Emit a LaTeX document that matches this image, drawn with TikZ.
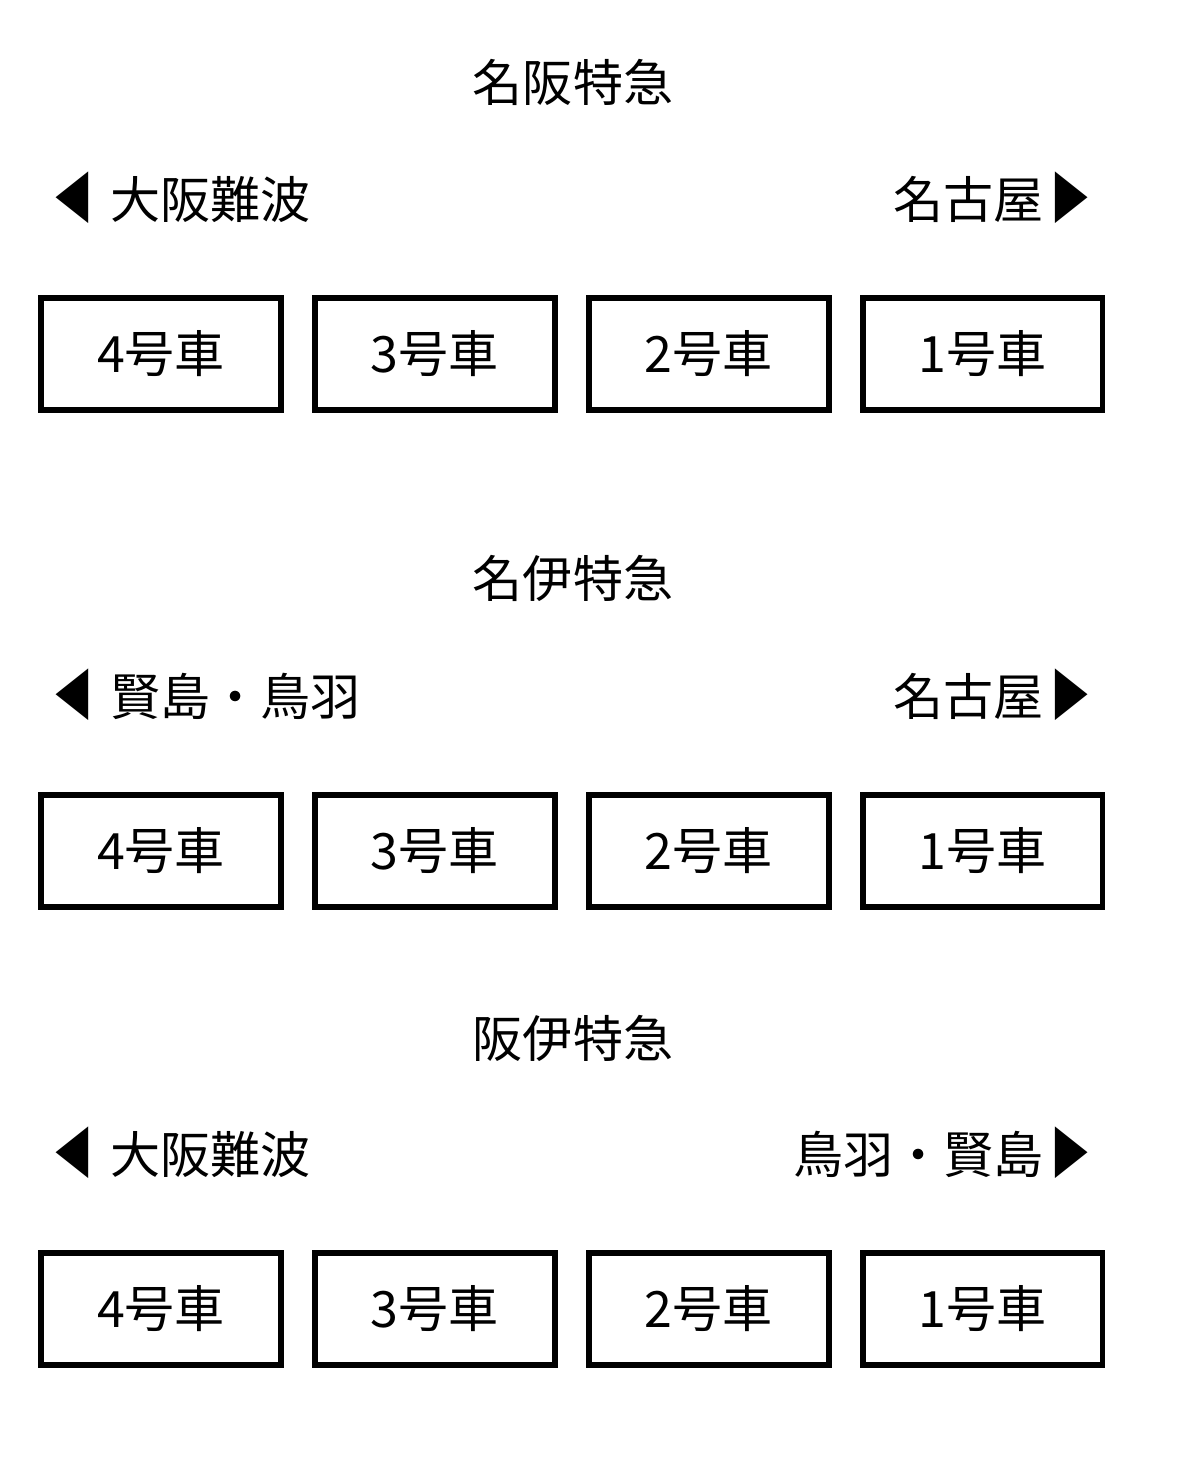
\documentclass[tikz,border=0pt]{standalone}
\usepackage{graphicx}
\usepackage{fontspec}
\newfontfamily\jp{Noto Sans CJK JP}
\usetikzlibrary{positioning}
\newcommand{\tril}{\scalebox{0.8}[1.1]{◀}}
\newcommand{\trir}{\scalebox{0.8}[1.1]{▶}}
\tikzstyle{car} = [rectangle, 
minimum width=4.8cm, 
minimum height=2.24cm,
text centered, 
draw=black, 
line width=3pt,
font=\jp\fontsize{28.5}{32}\selectfont]
\tikzstyle{title} = [font=\jp\fontsize{28.5}{32}\selectfont]
\tikzstyle{dest} = [inner sep=0pt, 
font=\jp\fontsize{28.5}{32}\selectfont]

\begin{document}
\begin{tikzpicture}[x=0.02cm, y=-0.02cm, node distance=5.48cm]
\useasboundingbox (0,0) rectangle (1184,1458);

% 名阪特急
\node (title1) [title] at (573,82) {名阪特急};
\node (west1) [dest, anchor=west] at (53,198) {\tril\hspace{0.34cm}大阪難波};
\node (east1) [dest, anchor=east] at (1091,198) {名古屋\hspace{0.14cm}\trir};
\node (car4a) [car] at (161,354) {4号車};
\node (car3a) [car, right of=car4a] {3号車};
\node (car2a) [car, right of=car3a] {2号車};
\node (car1a) [car, right of=car2a] {1号車};

% 名伊特急
\node (title2) [title] at (573,578) {名伊特急};
\node (west2) [dest, anchor=west] at (53,695) {\tril\hspace{0.34cm}賢島・鳥羽};
\node (east2) [dest, anchor=east] at (1091,695) {名古屋\hspace{0.14cm}\trir};
\node (car4b) [car] at (161,851) {4号車};
\node (car3b) [car, right of=car4b] {3号車};
\node (car2b) [car, right of=car3b] {2号車};
\node (car1b) [car, right of=car2b] {1号車};

% 阪伊特急
\node (title3) [title] at (573,1038) {阪伊特急};
\node (west3) [dest, anchor=west] at (53,1153) {\tril\hspace{0.34cm}大阪難波};
\node (east3) [dest, anchor=east] at (1091,1153) {鳥羽・賢島\hspace{0.14cm}\trir};
\node (car4c) [car] at (161,1309) {4号車};
\node (car3c) [car, right of=car4c] {3号車};
\node (car2c) [car, right of=car3c] {2号車};
\node (car1c) [car, right of=car2c] {1号車};

\end{tikzpicture}
\end{document}
